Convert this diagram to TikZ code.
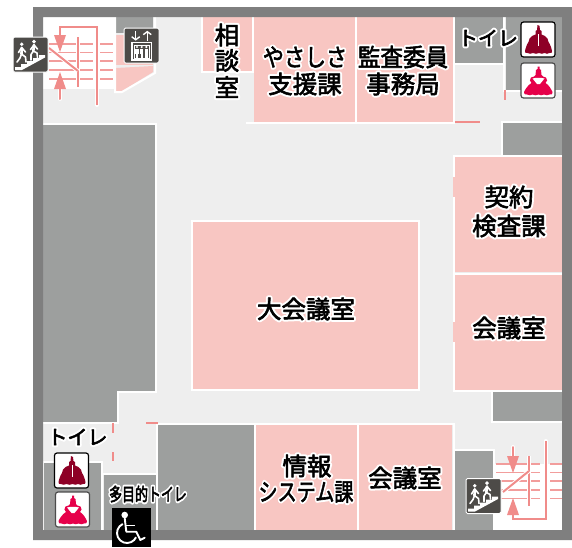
\documentclass[tikz,border=0pt]{standalone}
\usepackage{fontspec}
\usepackage{graphicx}
\usetikzlibrary{arrows.meta}
\newfontfamily\jp{Noto Sans CJK JP}
\definecolor{pinkroom}{HTML}{F8C6C2}
\definecolor{grayroom}{HTML}{9D9F9E}
\definecolor{wallc}{HTML}{7F7F7F}
\definecolor{floorc}{HTML}{EEEEEE}
\definecolor{doorc}{HTML}{F08C8A}
\definecolor{iconc}{HTML}{4D4B48}
\definecolor{manc}{HTML}{8E0026}
\definecolor{womanc}{HTML}{E6004A}
\newcommand\halo[1]{\leavevmode\rlap{\special{pdf:code 2 Tr 4.6 w 1 j 1 J 1 1 1 RG 1 1 1 rg}#1}\special{pdf:code 2 Tr 0.6 w 0 0 0 RG 0 0 0 rg}#1\special{pdf:code 0 Tr 1 w 0 J 0 j}}
\newcommand\lbl[1]{\jp\fontsize{#1}{#1}\selectfont}
\newcommand\stairicon[2]{\begin{scope}[shift={(#1,#2)}]
  \fill[iconc,draw=white,line width=1,rounded corners=1.5] (0,0) rectangle (35,35);
  \fill[white] (2,33)--(2,30)--(8,30)--(8,27)--(14,27)--(14,24)--(20,24)--(20,21)--(26,21)--(26,18)--(32,18)--(32,20.5)--(9,33)--cycle;
  \fill[white] (8.7,7.2) circle (1.9) (21,4.6) circle (1.9);
  \draw[white,line width=2.6,line cap=round,line join=round] (8.7,11)--(8.5,17) (21,8)--(20.3,14);
  \draw[white,line width=1.6,line cap=round,line join=round]
    (8.5,17)--(12.5,20)--(13,25) (8.5,17)--(7,21)--(4,25) (8.7,10.5)--(5.5,15.5) (8.7,10.5)--(12.5,15)
    (20.3,14)--(24,16)--(24.5,20.5) (20.3,14)--(18,17.5)--(18,23) (21,8)--(17.5,12.5) (21,8)--(24.5,12);
\end{scope}}
\newcommand\manicon[2]{\begin{scope}[shift={(#1,#2)}]
  \fill[white,draw=black,line width=1.2,rounded corners=2.5] (0,0) rectangle (34,35);
  \fill[manc] (16.5,3)--(18.5,4)--(19,8)--(20.5,9)--(20.5,12.5)--(24,14) .. controls (26.5,15) and (27,18) .. (27.5,20) .. controls (29,22) and (30.5,26) .. (31,29) .. controls (31.5,31) and (30,31.5) .. (28.5,31)
   .. controls (27,32) and (25,32) .. (23.5,31) .. controls (22,32) and (20,32) .. (18,31) .. controls (16,32) and (14,32) .. (12,31) .. controls (10,32) and (8,32) .. (6.5,31) .. controls (5,31.5) and (3.5,31) .. (4,29)
   .. controls (4.5,26) and (6,22) .. (7.5,20) .. controls (8,18) and (8.5,15) .. (11,14)--(14.5,12.5)--(14.5,9)--(16,8)--cycle;
  \draw[white,line width=.7] (17.5,12)--(17.5,24);
\end{scope}}
\newcommand\womanicon[2]{\begin{scope}[shift={(#1,#2)}]
  \fill[white,draw=black!70,line width=1.2,rounded corners=2.5] (0,0) rectangle (34,35);
  \fill[womanc] (16.5,3.5)--(18.5,3.5)--(18.5,6)--(20,7)--(20.5,12)--(22,13.5)--(25,14.5) .. controls (27,16) and (26,19) .. (24.5,20) .. controls (28,22) and (30,26) .. (31.5,29) .. controls (32,31) and (30.5,32) .. (28.5,31.5)
  .. controls (27,32.5) and (25,32.5) .. (23,31.5) .. controls (21,32.5) and (19,32.5) .. (17.5,31.5) .. controls (16,32.5) and (13,32.5) .. (11.5,31.5) .. controls (10,32.5) and (8,32.5) .. (6,31.5) .. controls (4,32) and (2.5,31) .. (3,29)
  .. controls (4.5,26) and (7,22) .. (10.5,20) .. controls (9,19) and (8,16) .. (10,14.5)--(13,13.5)--(14.5,12)--(15,7)--(16.5,6)--cycle;
  \fill[white] (11.5,15.5).. controls (15,14.5) and (20,14.5) .. (23.5,15.5)--(19,21)--(16,21)--cycle;
\end{scope}}
\begin{document}
\begin{tikzpicture}[x=1pt,y=-1pt,line cap=butt,
  roomp/.style={fill=pinkroom},
  roomg/.style={fill=grayroom},
  wline/.style={white,line width=2},
  door/.style={doorc,line width=2},
  tread/.style={doorc!85!white,line width=1.1},
  sline/.style={doorc,line width=2},
  tag/.style={inner sep=0,black,anchor=center},
  ahead/.style={fill=doorc}]
\useasboundingbox (0,0) rectangle (572,547);
\fill[white] (0,0) rectangle (572,547);
% floor
\fill[floorc] (43,17) rectangle (562,530);
% white stair areas
\fill[white] (43,17) rectangle (115,87);
\fill[white] (494,464) rectangle (562,530);
% grey blocks
\fill[roomg] (43,125)--(155,125)--(155,391)--(117,391)--(117,422)--(43,422)--cycle;
\fill[roomg] (44,463) rectangle (101,530);
\fill[roomg] (104,475) rectangle (156,530);
\fill[roomg] (158,425) rectangle (254,530);
\fill[roomg] (455,451) rectangle (493,530);
\fill[roomg] (492,392) rectangle (562,421);
\fill[roomg] (503,123) rectangle (562,155);
\fill[roomg] (455,17) rectangle (503,63);
\fill[roomg] (506,17) rectangle (562,90);
\fill[roomg] (116,17) rectangle (153,33);
% pink rooms
\fill[pinkroom] (116,35) rectangle (153,65);
\fill[pinkroom] (116,68)--(153,66)--(153,72)--(122,91)--(116,91)--cycle;
\fill[roomp] (203,17) rectangle (252,71);
\fill[roomp] (254,17) rectangle (355,122);
\fill[roomp] (357,17) rectangle (453,122);
\fill[roomp] (455,157) rectangle (562,272);
\fill[roomp] (455,275) rectangle (562,390);
\fill[roomp] (193,222) rectangle (418,389);
\fill[roomp] (256,425) rectangle (357,530);
\fill[roomp] (359,425) rectangle (452,530);
% white lines
\draw[wline] (43,124)--(156,124)--(156,392)--(118,392)--(118,423)--(43,423);
\draw[wline] (115,17)--(115,92)--(122,92)--(155,73)--(155,17);
\draw[wline] (43,88)--(115,88);
\draw[wline] (202,17)--(202,72)--(253,72)--(253,17);
\draw[wline] (246,123)--(454,123)--(454,17);
\draw[wline] (356,17)--(356,123);
\draw[wline] (455,64)--(504,64);
\draw[wline] (504,17)--(504,91)--(562,91);
\draw[wline] (562,122)--(502,122)--(502,156);
\draw[wline] (562,156)--(454,156)--(454,391)--(562,391);
\draw[wline] (454,273.5)--(562,273.5);
\draw[wline] (192,221) rectangle (419,390);
\draw[wline] (491.5,391)--(491.5,422)--(562,422);
\draw[wline] (157,530)--(157,424)--(454,424)--(454,450)--(494,450)--(494,530);
\draw[wline] (454,424)--(454,530);
\draw[wline] (255,424)--(255,530);
\draw[wline] (358,424)--(358,530);
\draw[wline] (43,462)--(102,462)--(102,530);
\draw[wline] (43,462)--(43,530);
\draw[wline] (103,474)--(157,474);
% doors
\draw[door] (504.7,90)--(504.7,100);
\draw[door] (455,122)--(480,122);
\draw[door] (112.7,423)--(112.7,433);
\draw[door] (112.7,452)--(112.7,461);
\draw[door] (146,423)--(158,423);
\draw[pinkroom,line width=2] (454,177)--(454,197);
\draw[pinkroom,line width=2] (454,322)--(454,342);
% stairs top-left
\foreach \yy in {44,52.5,61,70,79}{
  \draw[tread] (49,\yy)--(93,\yy);
  \draw[tread] (100,\yy)--(113,\yy);}
\draw[white,line width=4] (78,37)--(78,87);
\draw[sline] (78,37)--(78,87);
\draw[white,line width=4] (49,48)--(78,71);
\draw[sline] (49,48)--(78,71);
\draw[white,line width=4,line cap=round] (97,105)--(97,27)--(60,27)--(60,38);
\draw[sline] (97,105)--(97,26.5)--(60,26.5)--(60,38);
\draw[white,line width=4,line cap=round] (60,99)--(60,86);
\draw[sline,line cap=round] (60,99)--(60,86);
\fill[ahead] (54,35)--(66,35)--(60,52)--cycle;
\fill[ahead] (54,89)--(66,89)--(60,72)--cycle;
% stairs bottom-right
\foreach \yy in {464,472.7,481,490,498.7}{
  \draw[tread] (496,\yy)--(540,\yy);
  \draw[tread] (550,\yy)--(562,\yy);}
\draw[white,line width=4] (529,456)--(529,506);
\draw[sline] (529,456)--(529,506);
\draw[white,line width=4] (529,471)--(503,492);
\draw[sline] (529,471)--(503,492);
\draw[white,line width=4,line cap=round] (545.5,441)--(545.5,518.5)--(513,518.5)--(513,505);
\draw[sline] (545.5,441)--(545.5,518.5)--(513,518.5)--(513,505);
\draw[white,line width=4,line cap=round] (513,447)--(513,460);
\draw[sline,line cap=round] (513,447)--(513,460);
\fill[ahead] (507,456)--(519,456)--(513,473)--cycle;
\fill[ahead] (507,515)--(519,515)--(513,498)--cycle;
% walls
\fill[wallc,even odd rule] (33,7) rectangle (572,540) (43,17) rectangle (562,530);
% icons
\stairicon{13}{37}
\stairicon{466}{478.5}
\begin{scope}[shift={(124,28)}]
  \fill[iconc,draw=white,line width=1,rounded corners=1.5] (0,0) rectangle (35,35);
  \draw[white,line width=1.4,-{Straight Barb[length=3pt,width=8pt]}] (11.7,2.8)--(11.7,12.6);
  \draw[white,line width=1.4,-{Straight Barb[length=3pt,width=8pt]}] (23.3,12.6)--(23.3,2.8);
  \draw[white,line width=1.2] (8,14.6) rectangle (27.5,32);
  \draw[white,line width=.6] (10,17) rectangle (25.5,30);
  \fill[white] (13,19) circle (1.2) (17.7,19) circle (1.2) (22.4,19) circle (1.2);
  \foreach \xx in {13,17.7,22.4}{\fill[white] (\xx-1.7,20.6) rectangle (\xx+1.7,26);
    \fill[white] (\xx-1.1,26) rectangle (\xx+1.1,29.5);}
\end{scope}
\manicon{521}{22}
\womanicon{521}{63}
\manicon{54.5}{453}
\womanicon{55.5}{492}
% wheelchair
\fill[black] (112,508) rectangle (151,547);
\fill[white] (124.7,515) circle (3.3);
\draw[white,line width=1.9,line cap=round,line join=round] (124.7,518)--(126.3,531.7)--(136.3,531.7)--(140.3,540)--(144.7,537.7);
\draw[white,line width=1.4] (125.3,525.2)--(134.7,525.2);
\draw[white,line width=1.9] (127,533) ++(245:10) arc[start angle=245,end angle=25,radius=10];
% labels
\node[tag] (soudan1) at (227,35) {\lbl{24.5}\halo{相}};
\node[tag] (soudan2) at (227,60.5) {\lbl{24.5}\halo{談}};
\node[tag] (soudan3) at (227,87) {\lbl{24.5}\halo{室}};
\node[tag] (yasa) at (305,57) {\lbl{24.5}\scalebox{.86}[1]{\halo{やさしさ}}};
\node[tag] (shien) at (305,84) {\lbl{24.5}\halo{支援課}};
\node[tag] (kansa) at (403,57) {\lbl{24.5}\scalebox{.92}[1]{\halo{監査委員}}};
\node[tag] (jimu) at (403,84) {\lbl{24.5}\halo{事務局}};
\node[tag] (keiyaku) at (509,197) {\lbl{24.5}\halo{契約}};
\node[tag] (kensa) at (509,226) {\lbl{24.5}\halo{検査課}};
\node[tag] (daikai) at (306,309) {\lbl{24.5}\halo{大会議室}};
\node[tag] (kaigi1) at (509,328) {\lbl{24.5}\halo{会議室}};
\node[tag] (jouhou) at (307,466) {\lbl{24.5}\halo{情報}};
\node[tag] (system) at (306,492) {\lbl{24.5}\scalebox{.78}[1]{\halo{システム課}}};
\node[tag] (kaigi2) at (405,478) {\lbl{24.5}\halo{会議室}};
\node[tag] (toilet1) at (488,38) {\lbl{20}\halo{トイレ}};
\node[tag] (toilet2) at (77.5,437) {\lbl{20}\halo{トイレ}};
\node[tag] (tamoku) at (148,494) {\lbl{18}\scalebox{.72}[1]{\halo{多目的トイレ}}};
\end{tikzpicture}
\end{document}
